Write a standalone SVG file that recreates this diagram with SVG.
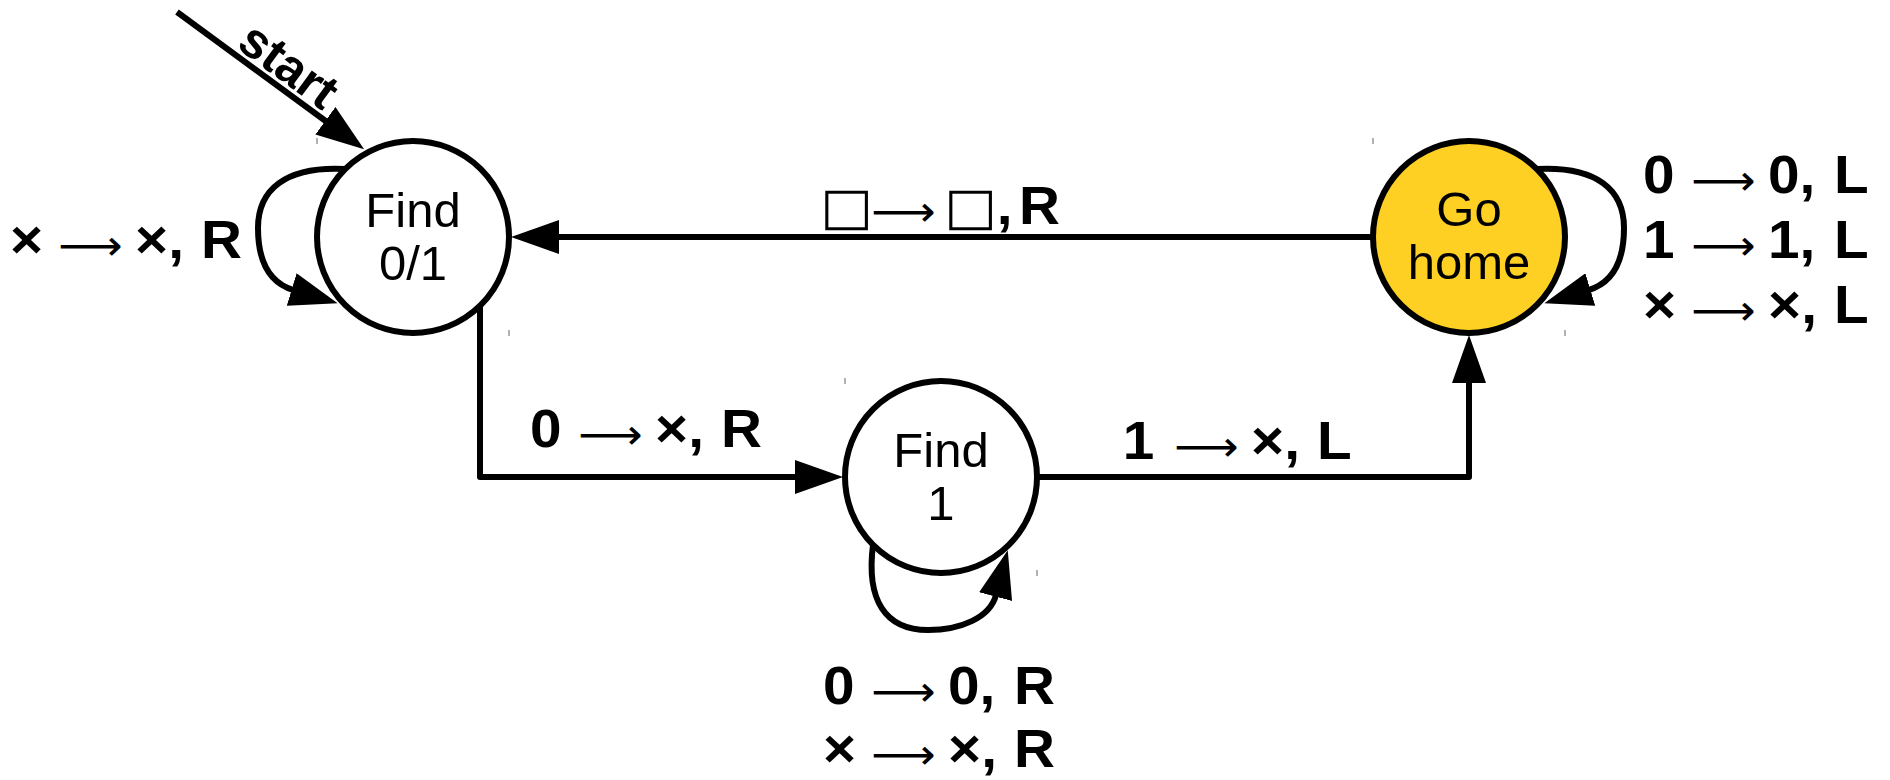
<svg xmlns="http://www.w3.org/2000/svg" width="1890" height="780" viewBox="0 0 1890 780">
<style>
.node{stroke:#000;stroke-width:6;fill:#fff}
.home{fill:#FDD023}
.nt{font-family:"Liberation Sans",Arial,sans-serif;font-size:49px;text-anchor:middle;fill:#000}
.lb{font-family:"Liberation Sans",Arial,sans-serif;font-size:53px;font-weight:bold;fill:#000}
.ar{font-family:"DejaVu Sans",sans-serif;font-weight:normal;font-size:42px}
.bx{font-family:"DejaVu Sans",sans-serif;font-weight:bold;font-size:52px}
.st{font-family:"Liberation Sans",Arial,sans-serif;font-size:50px;font-weight:bold;fill:#000}
.edge{fill:none;stroke:#000;stroke-width:6;stroke-linejoin:round}
.tick{stroke:#999;stroke-width:1.5}
</style>
<defs>
<marker id="ah" viewBox="0 0 48 34" refX="2" refY="17" markerWidth="48" markerHeight="34" markerUnits="userSpaceOnUse" orient="auto">
<path d="M0,0 L48,17 L0,34 z" fill="#000"/>
</marker>
</defs>

<g id="connectors">
<path class="edge" d="M177 12 L327 122" marker-end="url(#ah)"/>
<path class="edge" d="M1373 237 L557 237" marker-end="url(#ah)"/>
<path class="edge" d="M480 306 L480 477 L797 477" marker-end="url(#ah)"/>
<path class="edge" d="M1037 477 L1469 477 L1469 381" marker-end="url(#ah)"/>
<path class="edge" d="M345 169 C 285 166, 258 190, 258 228 C 258 262, 270 283, 293.6 290.1" marker-end="url(#ah)"/>
<path class="edge" d="M1537 169 C 1597 166, 1624 190, 1624 228 C 1624 262, 1612 283, 1588.4 290.1" marker-end="url(#ah)"/>
<path class="edge" d="M873 545 C 866 600, 885 630, 928 630 C 960 630, 990 618, 996.1 594.7" marker-end="url(#ah)"/>
<text class="st" x="279" y="79" text-anchor="middle" transform="rotate(36.2 279 79)">start</text>
<g transform="translate(10,258) scale(1.07,1)"><text class="lb"><tspan x="0">×</tspan><tspan class="ar" x="45" dy="2">⟶</tspan><tspan x="116.9" dy="-2">×,</tspan><tspan x="178.5">R</tspan></text></g>
<g transform="translate(820,224) scale(1.07,1)"><text class="lb"><tspan class="bx" x="0">□</tspan><tspan class="ar" x="48" dy="2">⟶</tspan><tspan class="bx" x="116" dy="-2">□</tspan><tspan>,</tspan><tspan x="186">R</tspan></text></g>
<g transform="translate(1643,193) scale(1.07,1)"><text class="lb"><tspan x="0">0</tspan><tspan class="ar" x="45" dy="2">⟶</tspan><tspan x="116.9" dy="-2">0,</tspan><tspan x="178.5">L</tspan></text></g>
<g transform="translate(1643,258) scale(1.07,1)"><text class="lb"><tspan x="0">1</tspan><tspan class="ar" x="45" dy="2">⟶</tspan><tspan x="116.9" dy="-2">1,</tspan><tspan x="178.5">L</tspan></text></g>
<g transform="translate(1643,323) scale(1.07,1)"><text class="lb"><tspan x="0">×</tspan><tspan class="ar" x="45" dy="2">⟶</tspan><tspan x="116.9" dy="-2">×,</tspan><tspan x="178.5">L</tspan></text></g>
<g transform="translate(530,447) scale(1.07,1)"><text class="lb"><tspan x="0">0</tspan><tspan class="ar" x="45" dy="2">⟶</tspan><tspan x="116.9" dy="-2">×,</tspan><tspan x="178.5">R</tspan></text></g>
<g transform="translate(1126,459) scale(1.07,1)"><text class="lb"><tspan x="-3">1</tspan><tspan class="ar" x="45" dy="2">⟶</tspan><tspan x="116.9" dy="-2">×,</tspan><tspan x="178.5">L</tspan></text></g>
<g transform="translate(823,704) scale(1.07,1)"><text class="lb"><tspan x="0">0</tspan><tspan class="ar" x="45" dy="2">⟶</tspan><tspan x="116.9" dy="-2">0,</tspan><tspan x="178.5">R</tspan></text></g>
<g transform="translate(823,767) scale(1.07,1)"><text class="lb"><tspan x="0">×</tspan><tspan class="ar" x="45" dy="2">⟶</tspan><tspan x="116.9" dy="-2">×,</tspan><tspan x="178.5">R</tspan></text></g>
</g>

<g id="find01">
<circle class="node" cx="413" cy="237" r="96"/>
<text class="nt" x="413" y="227">Find</text>
<text class="nt" x="413" y="280">0/1</text>
<line class="tick" x1="317" y1="138" x2="317" y2="144"/>
<line class="tick" x1="509" y1="330" x2="509" y2="336"/>
</g>
<g id="find1">
<circle class="node" cx="941" cy="477" r="96"/>
<text class="nt" x="941" y="467">Find</text>
<text class="nt" x="941" y="520">1</text>
<line class="tick" x1="845" y1="378" x2="845" y2="384"/>
<line class="tick" x1="1037" y1="570" x2="1037" y2="576"/>
</g>
<g id="gohome">
<circle class="node home" cx="1469" cy="237" r="96"/>
<text class="nt" x="1469" y="226">Go</text>
<text class="nt" x="1469" y="279">home</text>
<line class="tick" x1="1373" y1="138" x2="1373" y2="144"/>
<line class="tick" x1="1565" y1="330" x2="1565" y2="336"/>
</g>
</svg>
